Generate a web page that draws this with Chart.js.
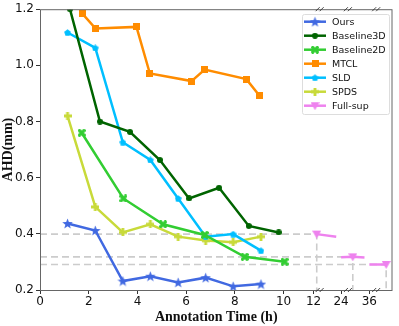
<!DOCTYPE html>
<html>
<head>
<meta charset="utf-8">
<script src="https://cdn.jsdelivr.net/npm/chart.js@4.4.0/dist/chart.umd.min.js"></script>
<style>
  html, body { margin: 0; padding: 0; background: #fff; }
  #wrap { width: 399px; height: 326px; }
</style>
</head>
<body>
<div id="wrap"><canvas id="ahd" width="399" height="326"></canvas></div>
<script>
// datos (x en horas; a partir de 10 el eje esta cortado)
const oursX = [1.13, 2.27, 3.40, 4.53, 5.67, 6.80, 7.93, 9.07];
const oursY = [0.437, 0.412, 0.232, 0.249, 0.227, 0.244, 0.213, 0.221];

const b3dX = [1.23, 2.46, 3.69, 4.92, 6.12, 7.35, 8.57, 9.80];
const b3dY = [1.20, 0.800, 0.763, 0.663, 0.526, 0.564, 0.428, 0.405];

const b2dX = [1.71, 3.42, 5.05, 6.76, 8.40, 10.04];
const b2dY = [0.760, 0.526, 0.434, 0.396, 0.318, 0.301];

const mtclX = [1.73, 2.28, 3.96, 4.51, 6.22, 6.76, 8.47, 9.02];
const mtclY = [1.185, 1.131, 1.137, 0.971, 0.944, 0.985, 0.951, 0.891];

const sldX = [1.13, 2.27, 3.40, 4.53, 5.67, 6.80, 7.93, 9.07];
const sldY = [1.117, 1.062, 0.726, 0.663, 0.526, 0.390, 0.399, 0.340];

const spdsX = [1.13, 2.27, 3.40, 4.53, 5.67, 6.80, 7.93, 9.07];
const spdsY = [0.820, 0.496, 0.405, 0.434, 0.390, 0.376, 0.370, 0.390];

// Full-sup: tres tramos cortos, posiciones en unidades del eje cortado
const fullSupX = [11.36, 12.16, 12.36, 12.84, 13.32, 13.52, 14.21];
const fullSupY = [0.399, 0.390, 0.317, 0.318, 0.316, 0.291, 0.291];
const fullSupMark = [1, 0, 0, 1, 0, 0, 1];
const fullSupSeg = [0, 0, 1, 1, 1, 2, 2];

// ticks del eje x
const xTickPos = [0, 2, 4, 6, 8, 10, 11.23, 12.36, 13.52];
const xTickLabels = ['0', '2', '4', '6', '8', '10', '12', '24', '36'];
const xBreaks = [11.48, 12.64, 13.8];

const yTicks = [0.2, 0.4, 0.6, 0.8, 1.0, 1.2];

const pts = (xs, ys) => xs.map((x, i) => ({ x: x, y: ys[i] }));

// marcadores tipo matplotlib dibujados en un canvas pequeño
function marker(shape, color, size) {
  const c = document.createElement('canvas');
  c.width = size; c.height = size;
  const g = c.getContext('2d');
  const m = size / 2;
  g.fillStyle = color;
  g.beginPath();
  if (shape === 'star') {
    for (let i = 0; i < 10; i++) {
      const r = i % 2 ? m * 0.42 : m;
      const a = -Math.PI / 2 + i * Math.PI / 5;
      g.lineTo(m + r * Math.cos(a), m + r * Math.sin(a) + m * 0.08);
    }
  } else if (shape === 'circle') {
    g.arc(m, m, m, 0, Math.PI * 2);
  } else if (shape === 'square') {
    g.rect(0, 0, size, size);
  } else if (shape === 'X') {
    const t = size * 0.2;
    g.translate(m, m); g.rotate(Math.PI / 4);
    g.rect(-m * 1.2, -t, m * 2.4, t * 2);
    g.rect(-t, -m * 1.2, t * 2, m * 2.4);
    g.setTransform(1, 0, 0, 1, 0, 0);
  } else if (shape === 'P') {
    const t = size * 0.18;
    g.rect(0, m - t, size, t * 2);
    g.rect(m - t, 0, t * 2, size);
  } else if (shape === 'pent') {
    for (let i = 0; i < 5; i++) {
      const a = -Math.PI / 2 + i * 2 * Math.PI / 5;
      g.lineTo(m + m * Math.cos(a), m + m * Math.sin(a) + m * 0.1);
    }
  } else if (shape === 'v') {
    g.moveTo(0, 1); g.lineTo(size, 1); g.lineTo(m, size);
  }
  g.closePath();
  g.fill();
  return c;
}

const series = [
  { label: 'Ours',       color: '#4169E1', mk: marker('star', '#4169E1', 11), data: pts(oursX, oursY) },
  { label: 'Baseline3D', color: '#006400', mk: marker('circle', '#006400', 6), data: pts(b3dX, b3dY) },
  { label: 'Baseline2D', color: '#32CD32', mk: marker('X', '#32CD32', 8), data: pts(b2dX, b2dY) },
  { label: 'MTCL',       color: '#FF8C00', mk: marker('square', '#FF8C00', 7), data: pts(mtclX, mtclY) },
  { label: 'SLD',        color: '#00BFFF', mk: marker('pent', '#00BFFF', 7), data: pts(sldX, sldY) },
  { label: 'SPDS',       color: '#C8DA3A', mk: marker('P', '#C8DA3A', 8), data: pts(spdsX, spdsY) },
];
const fullSup = { label: 'Full-sup', color: '#EE82EE', mk: marker('v', '#EE82EE', 9) };

const datasets = series.map(s => ({
  label: s.label,
  data: s.data,
  borderColor: s.color,
  backgroundColor: s.color,
  borderWidth: 2.5,
  pointStyle: s.mk,
  pointRadius: 4,
  tension: 0,
  order: 1
}));

datasets.push({
  label: fullSup.label,
  data: pts(fullSupX, fullSupY),
  borderColor: fullSup.color,
  borderWidth: 2.5,
  pointStyle: fullSup.mk,
  pointRadius: fullSupMark.map(v => v ? 4 : 0),
  segment: {
    borderColor: c => fullSupSeg[c.p0DataIndex] === fullSupSeg[c.p1DataIndex] ? fullSup.color : 'transparent'
  },
  order: 1
});

// lineas guia discontinuas desde cada marcador de Full-sup
fullSupX.forEach((x, i) => {
  if (!fullSupMark[i]) return;
  datasets.push({
    label: 'guia',
    data: [{ x: 0, y: fullSupY[i] }, { x: x, y: fullSupY[i] }, { x: x, y: 0.2 }],
    borderColor: '#cccccc',
    borderWidth: 1.6,
    borderDash: [7, 4],
    pointRadius: 0,
    order: 10
  });
});

const legendItems = series.concat([fullSup]);

const extras = {
  id: 'extras',
  afterDraw(chart) {
    const c = chart.ctx, a = chart.chartArea;
    c.save();
    // marco
    c.strokeStyle = '#666';
    c.lineWidth = 1;
    c.strokeRect(a.left + 0.5, a.top + 0.5, a.right - a.left - 1, a.bottom - a.top);
    // marcas de corte //
    const xs = chart.scales.x;
    c.strokeStyle = '#333';
    c.lineWidth = 0.9;
    xBreaks.forEach(b => {
      const px = xs.getPixelForValue(b);
      [a.top, a.bottom].forEach(py => {
        [-2, 2].forEach(o => {
          c.beginPath();
          c.moveTo(px + o - 2, py + 2);
          c.lineTo(px + o + 2, py - 2);
          c.stroke();
        });
      });
    });
    // leyenda
    const lx = 302, ly = 14, lw = 87, lh = 100;
    c.fillStyle = 'rgba(255,255,255,0.85)';
    c.strokeStyle = '#dddddd';
    c.lineWidth = 1;
    c.beginPath();
    c.roundRect(lx + 0.5, ly + 0.5, lw, lh, 2);
    c.fill(); c.stroke();
    c.font = '9.5px "DejaVu Sans"';
    c.textBaseline = 'middle';
    legendItems.forEach((it, i) => {
      const y = ly + 7.7 + i * 14;
      c.strokeStyle = it.color;
      c.lineWidth = 2.5;
      c.beginPath();
      c.moveTo(lx + 2, y); c.lineTo(lx + 24, y);
      c.stroke();
      c.drawImage(it.mk, lx + 13 - it.mk.width / 2, y - it.mk.height / 2);
      c.fillStyle = '#111';
      c.fillText(it.label, lx + 30, y + 0.5);
    });
    c.restore();
  }
};

new Chart(document.getElementById('ahd'), {
  type: 'line',
  data: { datasets: datasets },
  options: {
    responsive: false,
    animation: false,
    layout: { padding: { top: 9, right: 6, left: 0, bottom: 0 } },
    plugins: {
      legend: { display: false },
      tooltip: { enabled: false }
    },
    scales: {
      x: {
        type: 'linear',
        min: 0,
        max: 14.47,
        afterBuildTicks: s => { s.ticks = xTickPos.map(v => ({ value: v })); },
        afterFit: s => { s.height = 36; },
        ticks: {
          autoSkip: false,
          maxRotation: 0,
          padding: 1,
          color: '#111',
          font: { family: 'DejaVu Sans', size: 12 },
          callback: (v, i) => xTickLabels[i]
        },
        grid: { drawOnChartArea: false, drawTicks: true, tickLength: 4, color: '#333' },
        border: { display: false },
        title: {
          display: true,
          text: 'Annotation Time (h)',
          color: '#111',
          padding: { top: -2, bottom: 0 },
          font: { family: 'Liberation Serif', size: 14, weight: 'bold' }
        }
      },
      y: {
        min: 0.2,
        max: 1.2,
        afterBuildTicks: s => { s.ticks = yTicks.map(v => ({ value: v })); },
        afterFit: s => { s.width = 40; },
        ticks: {
          padding: 2,
          color: '#111',
          font: { family: 'DejaVu Sans', size: 12 },
          callback: v => v.toFixed(1)
        },
        grid: { drawOnChartArea: false, drawTicks: true, tickLength: 4, color: '#333' },
        border: { display: false },
        title: {
          display: true,
          text: 'AHD(mm)',
          color: '#111',
          padding: { top: 0, bottom: 0 },
          font: { family: 'Liberation Serif', size: 14, weight: 'bold' }
        }
      }
    }
  },
  plugins: [extras]
});
</script>
</body>
</html>
